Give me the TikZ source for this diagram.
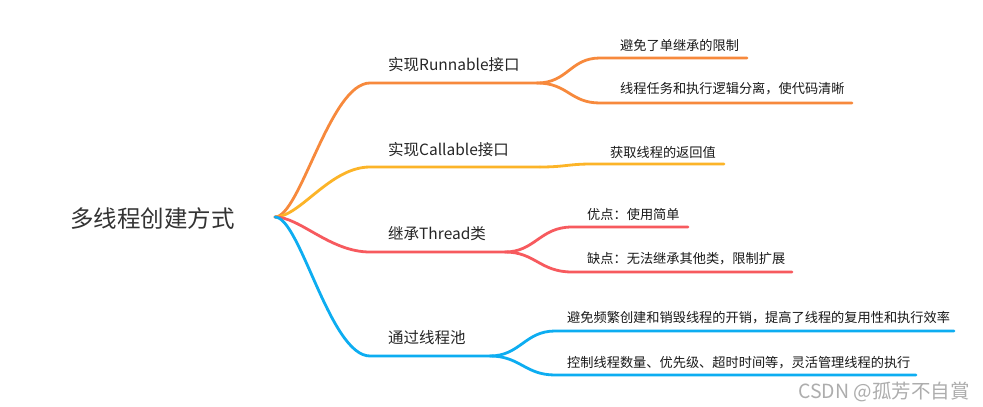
\documentclass[tikz,border=0pt]{standalone}
\usepackage{fontspec}
\setmainfont{Noto Sans CJK SC}
\begin{document}
\begin{tikzpicture}[x=1pt,y=-1pt,
  br/.style={line width=2.8pt,line cap=round},
  rootlbl/.style={anchor=west,inner sep=0pt,font=\fontsize{23.5}{26}\selectfont,text=black!80},
  mainlbl/.style={anchor=west,inner sep=0pt,font=\fontsize{15.5}{18}\selectfont,text=black!85},
  sublbl/.style={anchor=west,inner sep=0pt,font=\fontsize{13.2}{15}\selectfont,text=black!90},
  wmark/.style={anchor=west,inner sep=0pt,font=\fontsize{19.5}{22}\selectfont,text=black!32}]
\definecolor{corange}{HTML}{F7893C}
\definecolor{cyellow}{HTML}{FCB428}
\definecolor{cred}{HTML}{F75A5E}
\definecolor{cblue}{HTML}{0DADF1}
\useasboundingbox (0,0) rectangle (983,407);
\fill[white] (0,0) rectangle (983,407);

% root
\node[rootlbl] (root) at (70,219) {多线程创建方式};
\coordinate (r) at (275,217);

% branch coordinates
\coordinate (a0) at (370,83);  \coordinate (a1) at (537,83);
\coordinate (b0) at (370,167); \coordinate (b1) at (540,167);
\coordinate (c0) at (370,252); \coordinate (c1) at (505,252);
\coordinate (d0) at (370,356); \coordinate (d1) at (490,356);

% sub coordinates
\coordinate (a2s) at (600,58);  \coordinate (a2e) at (747,58);
\coordinate (a3s) at (600,103); \coordinate (a3e) at (852,103);
\coordinate (b2s) at (592,164); \coordinate (b2e) at (724,164);
\coordinate (c2s) at (572,227); \coordinate (c2e) at (688,227);
\coordinate (c3s) at (572,272); \coordinate (c3e) at (792,272);
\coordinate (d2s) at (555,331); \coordinate (d2e) at (954,331);
\coordinate (d3s) at (555,375); \coordinate (d3e) at (916,375);

% branch 1 orange
\draw[br,corange] (r) .. controls (300,217) and (330,83) .. (a0) -- (a1);
\draw[br,corange] (a1) .. controls (568,83) and (570,58) .. (a2s) -- (a2e);
\draw[br,corange] (a1) .. controls (568,83) and (570,103) .. (a3s) -- (a3e);
% branch 2 yellow
\draw[br,cyellow] (r) .. controls (300,217) and (330,167) .. (b0) -- (b1);
\draw[br,cyellow] (b1) .. controls (565,167) and (568,164) .. (b2s) -- (b2e);
% branch 3 red
\draw[br,cred] (r) .. controls (300,217) and (330,252) .. (c0) -- (c1);
\draw[br,cred] (c1) .. controls (535,252) and (540,227) .. (c2s) -- (c2e);
\draw[br,cred] (c1) .. controls (535,252) and (540,272) .. (c3s) -- (c3e);
% branch 4 blue
\draw[br,cblue] (r) .. controls (300,217) and (330,356) .. (d0) -- (d1);
\draw[br,cblue] (d1) .. controls (520,356) and (525,331) .. (d2s) -- (d2e);
\draw[br,cblue] (d1) .. controls (520,356) and (525,375) .. (d3s) -- (d3e);

% main labels
\node[mainlbl] (la) at (388,65) {实现Runnable接口};
\node[mainlbl] (lb) at (388,150) {实现Callable接口};
\node[mainlbl] (lc) at (388,234) {继承Thread类};
\node[mainlbl] (ld) at (388,338) {通过线程池};

% sub labels
\node[sublbl] (sa1) at (620,45) {避免了单继承的限制};
\node[sublbl] (sa2) at (620,89) {线程任务和执行逻辑分离，使代码清晰};
\node[sublbl] (sb1) at (610,152) {获取线程的返回值};
\node[sublbl] (sc1) at (587,214) {优点：使用简单};
\node[sublbl] (sc2) at (587,259) {缺点：无法继承其他类，限制扩展};
\node[sublbl] (sd1) at (567,318) {避免频繁创建和销毁线程的开销，提高了线程的复用性和执行效率};
\node[sublbl] (sd2) at (567,363) {控制线程数量、优先级、超时时间等，灵活管理线程的执行};

% watermark
\node[wmark] (wm) at (798,392) {CSDN @孤芳不自賞};
\end{tikzpicture}
\end{document}
